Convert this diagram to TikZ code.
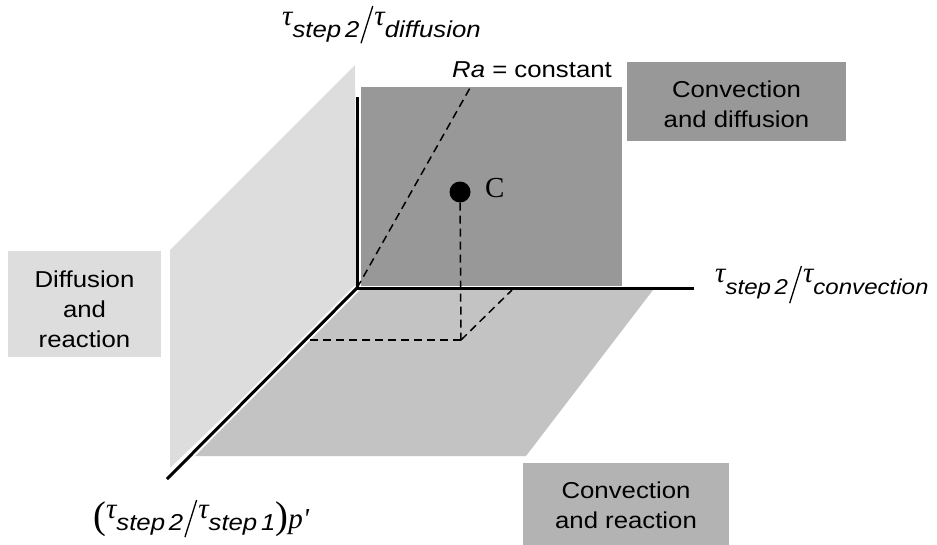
\documentclass[tikz,border=0pt]{standalone}
\usepackage{graphicx}
\usepackage{fontspec}
\setmainfont[FakeStretch=1.12]{Liberation Sans}
\newfontfamily\serif{Liberation Serif}
\usetikzlibrary{positioning}
\definecolor{PlaneLight} {RGB}{221,221,221}
\definecolor{PlaneFloor} {RGB}{195,195,195}
\definecolor{PlaneBack}  {RGB}{152,152,152}
\definecolor{BoxMid}     {RGB}{179,179,179}
\newcommand{\tausym}{{\serif\itshape\fontsize{29}{29}\selectfont τ}}
\newcommand{\tausub}[1]{\tausym\raisebox{-12pt}{\itshape #1}}
\newcommand{\tallslash}[1]{\kern1pt\raisebox{-#1pt}{\rotatebox{-17.5}{\rule{1.3pt}{39pt}}}\kern1pt}
\newcommand{\tallparen}[1]{\raisebox{-19pt}{\raisebox{\depth}{\resizebox*{!}{35pt}{\serif #1}}}}
\tikzset{
  %% regime boxes
  regbox/.style={rectangle,inner sep=0pt},
  regtxt/.style={inner sep=0pt,align=center,font=\fontsize{23}{30}\selectfont},
  %% axes with white halo
  axhalo/.style={white,line width=7pt},
  axline/.style={black,line width=3pt},
  %% projection lines
  projdash/.style={black,line width=1.5pt,dash pattern=on 8pt off 5pt},
  axlab/.style={inner sep=0pt,anchor=base west,font=\fontsize{23}{28}\selectfont},
}
\begin{document}
\begin{tikzpicture}[x=1pt,y=-1pt]
    \useasboundingbox (0,0) rectangle (937,544);

    %% points of the frame
    \coordinate (O)    at (357,288);
    \coordinate (Ztop) at (357,97);
    \coordinate (Xend) at (694,288);
    \coordinate (Yend) at (167,479);

    %% planes
    \fill[PlaneLight] (355,65) -- (170,250) -- (170,468) -- (O) -- cycle;
    \fill[PlaneFloor] (357,290) -- (653,290) -- (526,456) -- (191,456) -- cycle;
    \fill[PlaneBack]  (361,87) rectangle (622,286);

    %% axes
    \draw[axhalo] (Yend) -- (O);
    \draw[axline] (Ztop) -- (O) -- (Xend);
    \draw[axline] (O) -- (Yend);

    %% Ra = constant line
    \coordinate (RaTop) at (470,88);
    \draw[projdash] (O) -- (RaTop);

    %% point C and its projections
    \node[circle,fill=black,inner sep=0pt,minimum size=21pt] (C) at (460,192) {};
    \node[inner sep=0pt,anchor=base west,font=\serif\fontsize{29}{30}\selectfont]
      (Clab) at (485,197) {C};
    \coordinate (Cfoot) at (461,340);
    \coordinate (Cleft) at (305,340);
    \coordinate (Cback) at (512,290);
    \draw[projdash] (C) -- (Cfoot);
    \draw[projdash] (Cfoot) -- (Cleft);
    \draw[projdash] (Cfoot) -- (Cback);

    %% regime boxes
    \node[regbox,fill=PlaneBack,minimum width=219pt,minimum height=79pt]
      (CD) at (736.5,101.5) {};
    \node[regtxt,yshift=-3pt] (CDtxt) at (CD) {Convection\\and diffusion};
    \node[regbox,fill=PlaneLight,minimum width=153pt,minimum height=106pt]
      (DR) at (84.5,304) {};
    \node[regtxt,yshift=-5pt] (DRtxt) at (DR) {Diffusion\\and\\reaction};
    \node[regbox,fill=BoxMid,minimum width=206pt,minimum height=82pt]
      (CR) at (626,503.5) {};
    \node[regtxt,yshift=-1.5pt] (CRtxt) at (CR) {Convection\\and reaction};

    %% axis labels
    \node[axlab] (Zlab) at (282,25)
      {\tausub{step\,2}\tallslash{18}\tausub{diffusion}};
    \node[axlab,font=\fontsize{21.5}{26}\selectfont] (Xlab) at (715,282)
      {\tausub{step\,2}\tallslash{21}\tausub{convection}};
    \node[axlab] (Ylab) at (93,518)
      {\tallparen{(}\tausub{step\,2}\tallslash{19}\tausub{step\,1}\tallparen{)}\raisebox{-10pt}{\serif\itshape\fontsize{29}{29}\selectfont p\/\textquotesingle}};
    \node[axlab] (Ralab) at (452,77) {\textit{Ra} = constant};
\end{tikzpicture}
\end{document}
